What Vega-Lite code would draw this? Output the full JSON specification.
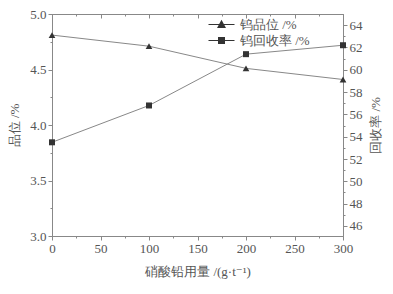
{
  "$schema": "https://vega.github.io/schema/vega-lite/v6.json",
  "autosize": "none",
  "width": 291,
  "height": 222,
  "padding": {"left": 52, "top": 14, "right": 50, "bottom": 58},
  "background": "white",
  "config": {
    "view": {"stroke": "#888", "strokeWidth": 1},
    "axis": {
      "labelFont": "Liberation Serif, Times New Roman, DejaVu Serif, serif",
      "titleFont": "Liberation Serif, Times New Roman, DejaVu Serif, serif",
      "labelFontSize": 13,
      "titleFontSize": 13,
      "labelColor": "#555",
      "titleColor": "#555",
      "titleFontWeight": "normal",
      "domainColor": "#888",
      "tickColor": "#888",
      "grid": false,
      "labelPadding": 2
    },
    "legend": {
      "labelFont": "Liberation Serif, Times New Roman, DejaVu Serif, serif",
      "labelFontSize": 13,
      "labelColor": "#555"
    }
  },
  "layer": [
    {
      "data": {"values": [
        {"dose": 0, "grade": 4.81},
        {"dose": 100, "grade": 4.71},
        {"dose": 200, "grade": 4.51},
        {"dose": 300, "grade": 4.41}
      ]},
      "encoding": {
        "x": {"field": "dose", "type": "quantitative",
          "scale": {"domain": [0, 300], "nice": false, "zero": false},
          "axis": {
            "orient": "bottom",
            "title": "硝酸铅用量 /(g·t⁻¹)",
            "titlePadding": 10,
            "values": [0,25,50,75,100,125,150,175,200,225,250,275,300],
            "labelExpr": "datum.value % 50 === 0 ? datum.label : ''",
            "tickSize": {"condition": {"test": "datum.value % 50 === 0", "value": 4}, "value": 2},
            "labelFlush": false
          }
        },
        "y": {"field": "grade", "type": "quantitative",
          "scale": {"domain": [3.0, 5.0], "nice": false, "zero": false},
          "axis": {
            "orient": "left",
            "title": "品位 /%",
            "titlePadding": 8,
            "values": [3.0,3.25,3.5,3.75,4.0,4.25,4.5,4.75,5.0],
            "format": ".1f",
            "labelExpr": "abs(datum.value*2 - round(datum.value*2)) < 0.001 ? datum.label : ''",
            "tickSize": {"condition": {"test": "abs(datum.value*2 - round(datum.value*2)) < 0.001", "value": 4}, "value": 2},
            "labelFlush": false
          }
        }
      },
      "layer": [
        {"mark": {"type": "line", "color": "#888", "strokeWidth": 1}},
        {"mark": {"type": "point", "shape": "triangle-up", "filled": true, "color": "#333", "opacity": 1, "size": 45}}
      ]
    },
    {
      "data": {"values": [
        {"dose": 0, "recovery": 53.5},
        {"dose": 100, "recovery": 56.8},
        {"dose": 200, "recovery": 61.4},
        {"dose": 300, "recovery": 62.2}
      ]},
      "encoding": {
        "x": {"field": "dose", "type": "quantitative",
          "scale": {"domain": [0, 300], "nice": false, "zero": false},
          "axis": {
            "orient": "top",
            "title": null,
            "labels": false,
            "values": [0,25,50,75,100,125,150,175,200,225,250,275,300],
            "tickSize": {"condition": {"test": "datum.value % 50 === 0", "value": -4}, "value": -2}
          }
        },
        "y": {"field": "recovery", "type": "quantitative",
          "scale": {"domain": [45.1, 65], "nice": false, "zero": false},
          "axis": {
            "orient": "right",
            "title": "回收率 /%",
            "titleAngle": -90,
            "titleBaseline": "top",
            "titlePadding": 7,
            "values": [46,47,48,49,50,51,52,53,54,55,56,57,58,59,60,61,62,63,64],
            "labelExpr": "datum.value % 2 === 0 ? datum.label : ''",
            "tickSize": {"condition": {"test": "datum.value % 2 === 0", "value": 4}, "value": 2},
            "labelFlush": false
          }
        }
      },
      "layer": [
        {"mark": {"type": "line", "color": "#888", "strokeWidth": 1}},
        {"mark": {"type": "point", "shape": "square", "filled": true, "color": "#333", "opacity": 1, "size": 36}}
      ]
    },
    {
      "data": {"values": [
        {"series": "钨品位 /%", "dose": -100, "v": 0},
        {"series": "钨回收率 /%", "dose": -100, "v": 0}
      ]},
      "mark": {"type": "point", "filled": true, "clip": true, "fill": "#333", "opacity": 1, "size": 71},
      "encoding": {
        "x": {"field": "dose", "type": "quantitative", "scale": {"domain": [0, 300], "nice": false, "zero": false}, "axis": null},
        "y": {"field": "v", "type": "quantitative", "axis": null},
        "shape": {"field": "series", "type": "nominal",
          "scale": {
            "domain": ["钨品位 /%", "钨回收率 /%"],
            "range": ["M-2.6,-0.12H2.6V0.12H-2.6ZM0,-0.95L0.9,0.7H-0.9Z", "M-2.6,-0.12H2.6V0.12H-2.6ZM-0.7,-0.7H0.7V0.7H-0.7Z"]
          },
          "legend": {
            "title": null,
            "orient": "none",
            "legendX": 157,
            "legendY": 4,
            "padding": 0,
            "symbolOffset": 6,
            "labelOffset": 12,
            "rowPadding": 2,
            "symbolOpacity": 1,
            "symbolFillColor": "#333",
            "encode": {
              "symbols": {"update": {
                "fill": {"value": "#444"},
                "opacity": {"value": 1}
              }}
            }
          }
        }
      }
    }
  ],
  "resolve": {"scale": {"y": "independent"}, "axis": {"x": "independent"}}
}
